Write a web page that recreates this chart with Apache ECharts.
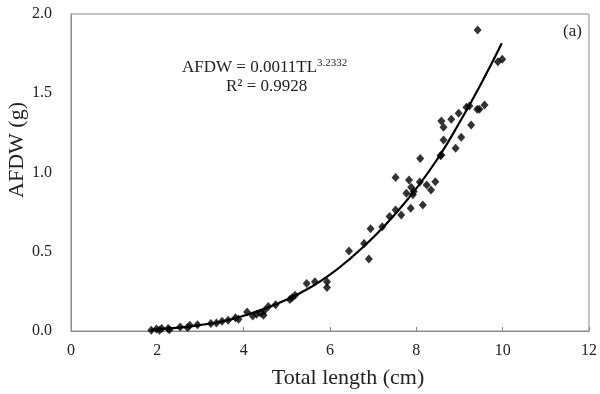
<!DOCTYPE html>
<html>
<head>
<meta charset="utf-8">
<script src="https://cdn.jsdelivr.net/npm/echarts@6/dist/echarts.min.js"></script>
<style>html,body{margin:0;padding:0;background:#fff}#c{width:600px;height:394px}</style>
</head>
<body>
<div id="c"></div>
<script>
// Observed points: total length (cm) and AFDW (g)
var totalLength = [1.86, 1.98, 2.05, 2.1, 2.25, 2.28, 2.53, 2.7, 2.75, 2.93, 3.24, 3.37, 3.5, 3.64, 3.81, 3.88, 4.08, 4.21, 4.3, 4.39, 4.46, 4.48, 4.57, 4.74, 5.07, 5.12, 5.19, 5.46, 5.65, 5.93, 5.93, 6.44, 6.79, 6.90, 6.94, 7.21, 7.38, 7.52, 7.52, 7.65, 7.77, 7.83, 7.87, 7.88, 7.92, 7.94, 8.08, 8.09, 8.15, 8.24, 8.34, 8.44, 8.56, 8.58, 8.58, 8.63, 8.63, 8.81, 8.91, 8.98, 9.04, 9.16, 9.23, 9.27, 9.41, 9.42, 9.46, 9.58, 9.89, 9.99];
var afdw = [0.004, 0.012, 0.004, 0.015, 0.016, 0.008, 0.025, 0.02, 0.036, 0.04, 0.048, 0.05, 0.062, 0.068, 0.084, 0.074, 0.12, 0.095, 0.105, 0.114, 0.1, 0.127, 0.155, 0.165, 0.198, 0.21, 0.225, 0.3, 0.31, 0.311, 0.275, 0.505, 0.552, 0.455, 0.645, 0.658, 0.722, 0.763, 0.968, 0.732, 0.869, 0.953, 0.774, 0.907, 0.86, 0.88, 0.94, 1.088, 0.795, 0.921, 0.89, 0.942, 1.105, 1.325, 1.11, 1.285, 1.205, 1.336, 1.153, 1.374, 1.222, 1.411, 1.42, 1.30, 1.399, 1.899, 1.399, 1.426, 1.699, 1.714];
// Fitted power curve
var fitLength = [1.85, 2, 2.5, 3, 3.5, 4, 4.5, 5, 5.5, 6, 6.5, 7, 7.5, 8, 8.5, 9, 9.5, 9.98];
var fitAfdw = [0.005, 0.01, 0.021, 0.038, 0.06, 0.096, 0.142, 0.198, 0.268, 0.355, 0.465, 0.59, 0.735, 0.9, 1.09, 1.315, 1.56, 1.815];
// Axis ticks
var xTicks = [0, 2, 4, 6, 8, 10, 12];
var yTicks = [0, 0.5, 1.0, 1.5, 2.0];
var equationMain = 'AFDW = 0.0011TL';
var equationExp = '3.2332';
var rSquared = 'R² = 0.9928';
var panelLabel = '(a)';
var xTitle = 'Total length (cm)';
var yTitle = 'AFDW (g)';

var FONT = '"Liberation Serif", "DejaVu Serif", serif';
var chart = echarts.init(document.getElementById('c'), null, {renderer: 'canvas'});
var scatterData = totalLength.map(function (x, i) { return [x, afdw[i]]; });
var fitData = fitLength.map(function (x, i) { return [x, fitAfdw[i]]; });

chart.setOption({
  animation: false,
  backgroundColor: '#fff',
  grid: {left: 71, right: 10, top: 14, bottom: 63, show: true, borderColor: '#8a8a8a', borderWidth: 1, backgroundColor: 'transparent'},
  xAxis: {
    type: 'value', min: xTicks[0], max: xTicks[xTicks.length - 1], interval: 2,
    axisLine: {show: true, lineStyle: {color: '#8a8a8a', width: 1}},
    axisTick: {show: true, inside: true, length: 4, lineStyle: {color: '#8a8a8a'}},
    splitLine: {show: false},
    axisLabel: {color: '#222', fontFamily: FONT, fontSize: 16, margin: 12},
    name: xTitle, nameLocation: 'middle', nameGap: 36,
    nameTextStyle: {color: '#222', fontFamily: FONT, fontSize: 22, padding: [0, 0, 0, 36]}
  },
  yAxis: {
    type: 'value', min: yTicks[0], max: yTicks[yTicks.length - 1], interval: 0.5,
    axisLine: {show: true, lineStyle: {color: '#8a8a8a', width: 1}},
    axisTick: {show: false},
    splitLine: {show: false},
    axisLabel: {color: '#222', fontFamily: FONT, fontSize: 16, margin: 19,
      formatter: function (v) { return v.toFixed(1); }}
  },
  graphic: [
    {type: 'text', left: 6, top: 102, rotation: Math.PI / 2,
      style: {text: yTitle, font: '22px ' + FONT, fill: '#222'}},
    {type: 'text', left: 182, top: 58,
      style: {text: '{n|' + equationMain + '}{s|' + equationExp + '}', fill: '#222',
        rich: {n: {font: '17px ' + FONT, fill: '#222', lineHeight: 18, verticalAlign: 'bottom'},
               s: {font: '11px ' + FONT, fill: '#222', lineHeight: 11, verticalAlign: 'top'}}}},
    {type: 'text', left: 226, top: 78,
      style: {text: rSquared, font: '17px ' + FONT, fill: '#222'}},
    {type: 'text', left: 563, top: 23,
      style: {text: panelLabel, font: '17px ' + FONT, fill: '#222'}}
  ],
  series: [
    {type: 'line', data: fitData, smooth: true, showSymbol: false, symbol: 'none',
      lineStyle: {color: '#000', width: 2.2}, z: 2},
    {type: 'scatter', data: scatterData, symbol: 'diamond', symbolSize: [8, 9],
      itemStyle: {color: '#000'}, z: 3}
  ]
});
</script>
</body>
</html>
